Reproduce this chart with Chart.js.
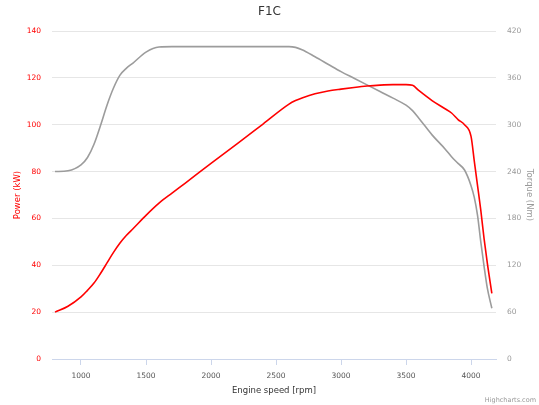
<!DOCTYPE html>
<html>
<head>
<meta charset="utf-8">
<script src="https://cdn.jsdelivr.net/npm/chart.js@4/dist/chart.umd.min.js"></script>
<style>
  html, body { margin: 0; padding: 0; background: #fff; }
  #wrap { width: 539px; height: 405px; }
</style>
</head>
<body>
<div id="wrap"><canvas id="engineChart" width="539" height="405"></canvas></div>
<script>
const rpm = [800, 900, 1000, 1050, 1100, 1150, 1200, 1250, 1300, 1350, 1400, 1500, 1600, 1700, 1800,
  2000, 2200, 2400, 2600, 2650, 2700, 2800, 2900, 3000, 3100, 3200, 3300, 3400, 3500, 3550, 3600,
  3700, 3800, 3850, 3900, 3950, 4000, 4025, 4050, 4075, 4100, 4125, 4160];
const powerKw = [20, 22.5, 26.5, 29.3, 32.4, 36.5, 41, 45.5, 49.5, 52.8, 55.6, 61.3, 66.5, 70.8, 75,
  83.5, 91.8, 100.3, 108.8, 110.3, 111.4, 113.2, 114.4, 115.2, 115.9, 116.5, 116.9, 117.1, 117.1, 116.8, 114.5,
  110.3, 106.8, 105, 102.2, 100, 95, 84.5, 74, 63.5, 51.5, 41, 28];
const torqueNm = [240, 241, 248.5, 258, 275, 299, 325, 347, 363.5, 372.5, 379, 393, 399.5, 400, 400,
  400, 400, 400, 400, 399, 396, 387, 377.5, 368, 359.5, 351, 342.5, 334, 325, 318, 308,
  287, 269, 259, 250.5, 242, 222, 207, 184, 150, 119, 91, 65];
const rpmTicks = [1000, 1500, 2000, 2500, 3000, 3500, 4000];

const font = 'DejaVu Sans, Verdana, sans-serif';

const credits = {
  id: 'credits',
  afterDraw(chart) {
    const ctx = chart.ctx;
    ctx.save();
    ctx.font = '6.5px ' + font;
    ctx.fillStyle = '#999';
    ctx.textAlign = 'right';
    ctx.textBaseline = 'middle';
    ctx.fillText('Highcharts.com', 536, 400);
    ctx.restore();
  }
};

new Chart(document.getElementById('engineChart'), {
  type: 'line',
  data: {
    datasets: [{
      label: 'Power',
      data: rpm.map((r, i) => ({ x: r, y: powerKw[i] })),
      borderColor: '#ff0000',
      borderWidth: 1.6,
      pointRadius: 0,
      cubicInterpolationMode: 'monotone',
      yAxisID: 'y'
    }, {
      label: 'Torque',
      data: rpm.map((r, i) => ({ x: r, y: torqueNm[i] })),
      borderColor: '#9c9c9c',
      borderWidth: 1.6,
      pointRadius: 0,
      cubicInterpolationMode: 'monotone',
      yAxisID: 'y1'
    }]
  },
  options: {
    responsive: false,
    animation: false,
    layout: { padding: 0 },
    plugins: {
      legend: { display: false },
      tooltip: { enabled: false },
      title: {
        display: true,
        text: 'F1C',
        color: '#333',
        font: { family: font, size: 12, weight: 'normal' },
        padding: { top: 5, bottom: 11.6 }
      }
    },
    scales: {
      x: {
        type: 'linear',
        min: 777,
        max: 4192,
        afterBuildTicks: scale => { scale.ticks = rpmTicks.map(v => ({ value: v })); },
        afterFit: scale => { scale.height = 46; },
        grid: { drawOnChartArea: false, tickColor: '#ccd6eb', tickLength: 6 },
        border: { color: '#ccd6eb' },
        ticks: { color: '#555', padding: 7, maxRotation: 0, font: { family: font, size: 7.5 }, callback: v => String(v) },
        title: { display: true, text: 'Engine speed [rpm]', color: '#333', padding: 9, font: { family: font, size: 8.5 } }
      },
      y: {
        position: 'left',
        min: 0,
        max: 140,
        afterFit: scale => { scale.width = 52; },
        grid: { color: '#e6e6e6', drawTicks: false },
        border: { display: false },
        ticks: { stepSize: 20, color: '#ff0000', padding: 11, font: { family: font, size: 7.5 } },
        title: { display: true, text: 'Power (kW)', color: '#ff0000', padding: 13, font: { family: font, size: 8.5 } }
      },
      y1: {
        position: 'right',
        min: 0,
        max: 420,
        afterFit: scale => { scale.width = 43; },
        grid: { drawOnChartArea: false, drawTicks: false },
        border: { display: false },
        ticks: { stepSize: 60, color: '#999', padding: 11, font: { family: font, size: 7.5 } },
        title: { display: true, text: 'Torque (Nm)', color: '#999', padding: 5, font: { family: font, size: 8.5 } }
      }
    }
  },
  plugins: [credits]
});
</script>
</body>
</html>
